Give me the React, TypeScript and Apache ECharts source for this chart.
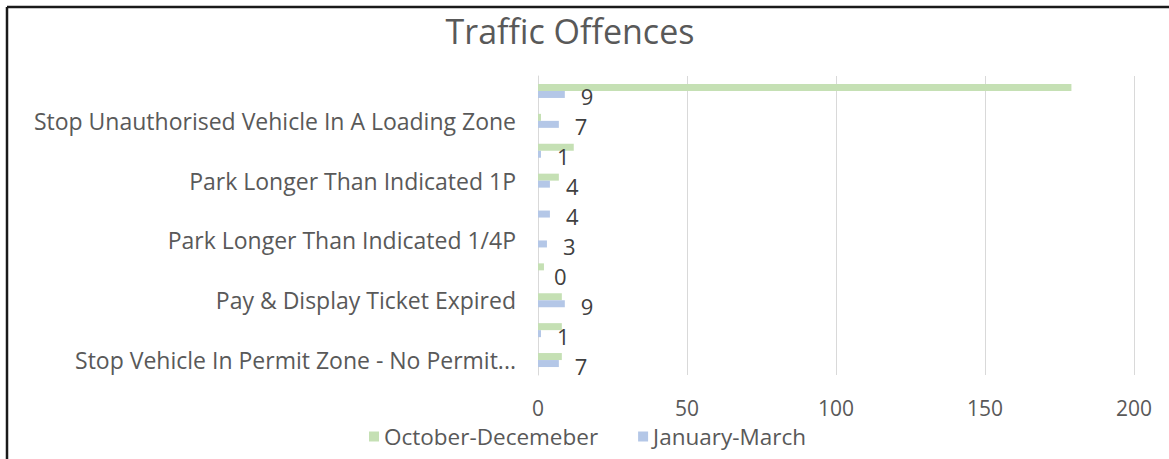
import React, { useEffect, useRef } from "react";
import * as echarts from "echarts";

const categories = [
  "Stop Vehicle In Permit Zone - No Permit...",
  "Offence 2",
  "Pay & Display Ticket Expired",
  "Offence 4",
  "Park Longer Than Indicated 1/4P",
  "Offence 6",
  "Park Longer Than Indicated 1P",
  "Offence 8",
  "Stop Unauthorised Vehicle In A Loading Zone",
  "Offence 10",
];
const octDec = [8, 8, 8, 2, 0, 0, 7, 12, 1, 179];
const janMar = [7, 1, 9, 0, 3, 4, 4, 1, 7, 9];
const xTicks = [0, 50, 100, 150, 200];

const FONT = "'Open Sans', 'Noto Sans', sans-serif";

export default function App() {
  const ref = useRef<HTMLDivElement>(null);
  useEffect(() => {
    if (!ref.current) return;
    const chart = echarts.init(ref.current, null, { renderer: "svg" });
    chart.setOption({
      animation: false,
      backgroundColor: "#ffffff",
      textStyle: { fontFamily: FONT },
      title: {
        text: "Traffic Offences",
        left: 565,
        textAlign: "center",
        top: 9,
        textStyle: { fontSize: 34, fontWeight: "normal", color: "#595959", fontFamily: FONT },
      },
      graphic: [
        { type: "line", shape: { x1: 7, y1: 7, x2: 1169, y2: 7 }, style: { stroke: "#1a1a1a", lineWidth: 2.5 } },
        { type: "line", shape: { x1: 7, y1: 7, x2: 7, y2: 459 }, style: { stroke: "#1a1a1a", lineWidth: 2.5 } },
      ],
      legend: {
        left: 364,
        top: 420,
        itemWidth: 10,
        itemHeight: 10,
        itemGap: 40,
        icon: "rect",
        textStyle: { fontSize: 22.5, lineHeight: 22, color: "#595959", fontFamily: FONT },
        data: ["October-Decemeber", "January-March"],
      },
      grid: { left: 538, right: 35, top: 76, bottom: 84, containLabel: false },
      xAxis: {
        type: "value",
        min: xTicks[0],
        max: xTicks[xTicks.length - 1],
        interval: xTicks[1] - xTicks[0],
        axisLine: { show: false },
        axisTick: { show: false },
        splitLine: { lineStyle: { color: "#d9d9d9", width: 1 } },
        axisLabel: { fontSize: 21, lineHeight: 20, color: "#595959", margin: 23, fontFamily: FONT },
      },
      yAxis: {
        type: "category",
        data: categories,
        axisLine: { show: true, lineStyle: { color: "#d9d9d9", width: 1 } },
        axisTick: { show: false },
        axisLabel: { interval: 1, fontSize: 23, color: "#595959", margin: 22, fontFamily: FONT },
      },
      series: [
        {
          name: "October-Decemeber",
          type: "bar",
          data: octDec,
          barWidth: 7,
          barGap: "0%",
          itemStyle: { color: "#c5e0b4" },
        },
        {
          name: "January-March",
          type: "bar",
          data: janMar,
          barWidth: 7,
          barGap: "0%",
          itemStyle: { color: "#b4c7e7" },
          label: {
            show: true,
            position: "right",
            distance: 16,
            offset: [0, 2],
            fontSize: 22,
            color: "#404040",
            fontFamily: FONT,
          },
        },
      ],
    });
    return () => chart.dispose();
  }, []);
  return (
    <div
      ref={ref}
      style={{ position: "absolute", left: 0, top: 0, width: 1169, height: 459 }}
    />
  );
}
